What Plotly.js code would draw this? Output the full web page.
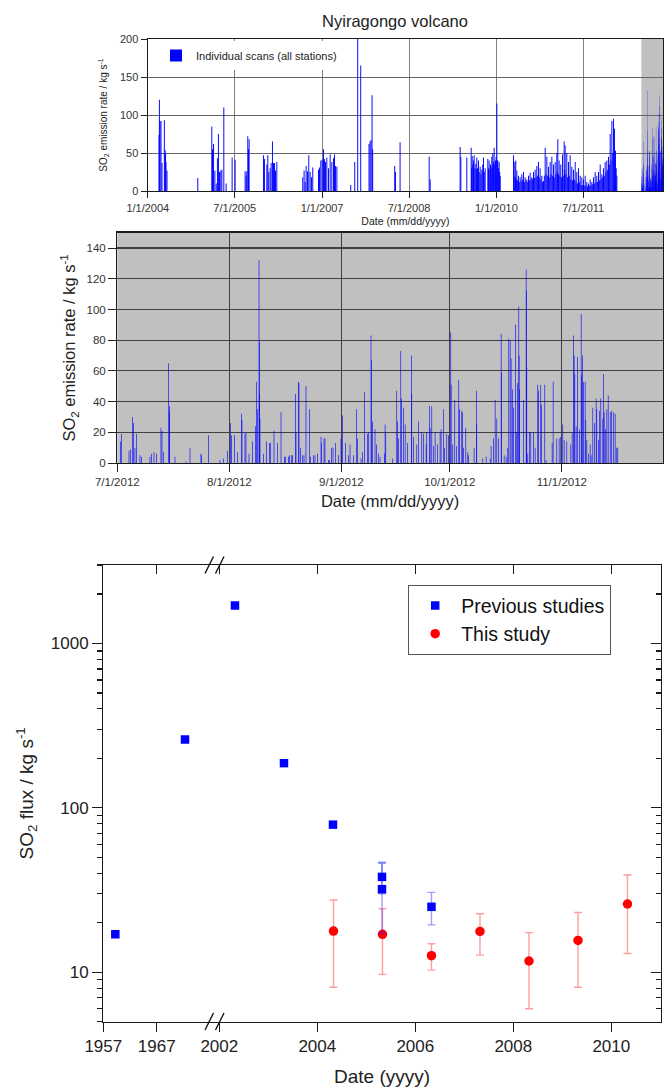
<!DOCTYPE html>
<html>
<head>
<meta charset="utf-8">
<script src="https://cdn.plot.ly/plotly-3.0.1.min.js"></script>
<style>
html,body{margin:0;padding:0;background:#fff;}
#chart{width:664px;height:1089px;}
</style>
</head>
<body>
<div id="chart"></div>
<script>
// ---------------- DATA ----------------
// Panel A: individual scans 2004 - early 2012 (decimal year, kg/s)
const scanYear = [
 2004.193,2004.199,2004.210,2004.227,2004.244,2004.284,2004.296,2004.305,2004.313,2004.330,
 2004.859,2005.100,2005.112,2005.130,2005.153,2005.176,2005.197,2005.214,2005.232,2005.255,
 2005.273,2005.307,2005.347,2005.450,2005.502,2005.674,2005.691,2005.703,2005.720,2005.732,
 2005.743,2005.990,2006.007,2006.048,2006.065,2006.082,2006.105,2006.122,2006.145,2006.163,
 2006.180,2006.197,2006.220,2006.667,2006.690,2006.708,2006.725,2006.748,2006.771,2006.794,
 2006.817,2006.840,2006.938,2006.955,2006.978,2007.001,2007.024,2007.041,2007.059,2007.082,
 2007.110,2007.139,2007.168,2007.197,2007.214,2007.232,2007.255,2007.494,2007.563,2007.614,
 2007.666,2007.809,2007.826,2007.843,2007.861,2007.872,2008.251,2008.263,2008.343,2008.843,
 2008.860,2009.376,2009.388,2009.491,2009.566,2009.575,2009.583,2009.595,2009.606,2009.617,
 2009.630,2009.646,2009.655,2009.663,2009.675,2009.692,2009.705,2009.721,2009.735,2009.750,
 2009.765,2009.778,2009.792,2009.807,2009.853,2009.865,2009.876,2009.888,2009.899,2009.910,
 2009.922,2009.930,2009.939,2009.950,2009.962,2009.973,2009.985,2009.996,2010.008,2010.016,
 2010.025,2010.036,2010.048,2010.058,2010.066,2010.295,2010.305,2010.318,2010.327,2010.335,
 2010.344,2010.353,2010.367,2010.381,2010.395,2010.410,2010.425,2010.439,2010.453,2010.468,
 2010.482,2010.496,2010.510,2010.525,2010.540,2010.554,2010.568,2010.582,2010.597,2010.611,
 2010.625,2010.640,2010.654,2010.668,2010.683,2010.697,2010.711,2010.726,2010.740,2010.754,
 2010.768,2010.783,2010.797,2010.812,2010.826,2010.841,2010.855,2010.870,2010.884,2010.898,
 2010.912,2010.927,2010.941,2010.956,2010.970,2010.984,2010.998,2011.013,2011.027,2011.042,
 2011.050,2011.059,2011.070,2011.082,2011.096,2011.110,2011.124,2011.139,2011.153,2011.168,
 2011.176,2011.185,2011.199,2011.214,2011.228,2011.243,2011.257,2011.271,2011.285,2011.300,
 2011.314,2011.329,2011.343,2011.358,2011.372,2011.386,2011.400,2011.415,2011.430,2011.444,
 2011.458,2011.473,2011.487,2011.501,2011.515,2011.530,2011.544,2011.559,2011.573,2011.587,
 2011.601,2011.616,2011.630,2011.645,2011.660,2011.674,2011.688,2011.702,2011.716,2011.731,
 2011.745,2011.760,2011.774,2011.789,2011.803,2011.817,2011.831,2011.846,2011.860,2011.875,
 2011.890,2011.904,2011.918,2011.932,2011.947,2011.961,2011.975,2011.990,2012.005,2012.019,
 2012.036,2012.053,2012.065,2012.076
];
const scanRate = [
 74,120,92,92,37,93,54,50,38,27,
 17,85,55,62,27,10,43,75,25,27,
 28,110,10,44,41,26,20,26,72,55,
 68,47,42,35,47,25,30,37,65,37,
 37,27,38,18,27,12,33,26,47,25,
 18,31,28,31,40,41,55,42,38,44,
 30,48,38,43,48,33,32,8,38,215,
 165,62,65,67,126,55,33,25,64,45,
 15,58,45,44,57,30,46,35,40,47,
 30,36,28,44,30,40,25,32,22,28,
 35,44,25,30,42,30,40,28,35,30,
 45,33,50,38,57,35,40,45,115,40,
 40,30,38,25,20,47,20,38,18,40,
 15,27,14,20,12,18,13,22,15,25,
 12,18,14,15,12,20,14,24,15,18,
 16,25,17,28,18,33,20,38,18,30,
 15,20,12,13,20,57,22,45,20,32,
 18,38,22,45,20,35,18,38,22,50,
 25,68,22,40,20,35,18,48,20,65,
 28,60,22,50,18,38,20,47,15,32,
 14,28,15,38,12,25,10,30,12,20,
 8,18,8,15,7,20,8,12,6,10,
 7,15,8,12,9,18,10,25,12,20,
 12,25,14,35,15,22,18,30,20,38,
 25,40,28,45,35,75,40,92,50,95,
 82,53,30,20
];

// Panel B: 2012 campaign scans (days after 1 July 2012, kg/s)
const scanDay2012 = [
 0.92,1.2,3.23,3.69,4.24,4.43,4.89,5.35,6.27,6.73,
 9.04,9.5,10.15,10.89,12.08,12.36,12.82,14.21,14.39,14.48,
 15.96,19.0,20.11,23.15,23.34,25.28,28.41,29.34,30.54,31.37,
 31.55,32.38,33.3,34.32,34.5,35.33,35.61,36.44,37.45,38.28,
 38.56,38.75,39.21,39.3,39.39,39.48,40.41,41.33,42.16,42.44,
 43.36,44.28,45.3,46.22,46.59,47.32,47.6,48.25,48.43,49.26,
 49.45,50.09,50.28,50.65,51.29,51.66,52.21,53.14,53.51,54.24,
 54.7,55.44,56.37,56.55,57.2,57.47,58.39,58.67,59.32,59.69,
 60.33,61.16,61.9,62.27,63.19,63.93,64.39,65.31,66.24,66.51,
 67.44,67.9,68.45,69.19,69.56,70.2,70.3,70.66,71.31,71.77,
 72.23,72.69,73.89,74.1,74.29,76.22,77.33,77.52,77.79,78.44,
 78.62,79.19,79.65,80.28,81.39,81.48,81.94,82.87,83.33,84.25,
 84.71,85.45,85.63,86.37,86.56,87.02,87.48,87.94,88.59,89.32,
 89.6,90.25,90.52,91.17,91.63,92.28,92.37,92.83,93.38,93.85,
 94.49,94.68,95.32,95.51,95.78,96.43,96.98,97.17,98.73,99.38,
 99.47,101.13,102.06,103.16,103.44,104.08,104.55,105.01,105.47,106.21,
 106.3,107.04,107.59,108.05,108.33,108.7,108.97,109.34,109.62,110.17,
 110.54,110.73,111.1,111.19,111.28,112.39,113.13,113.22,113.31,113.59,
 114.05,114.42,115.15,115.62,116.35,116.54,117.18,117.37,118.29,118.66,
 120.32,120.6,121.61,122.26,122.72,123.27,123.64,124.38,125.49,125.86,
 126.23,126.41,126.6,126.96,127.33,127.89,128.35,128.44,128.72,128.99,
 129.45,129.64,129.92,130.38,130.84,131.11,131.58,132.04,132.5,132.68,
 133.14,133.42,133.79,134.35,134.53,134.72,135.09,135.46,135.83,136.39,
 136.76,137.29,137.75,138.21,138.49
];
const scanRate2012 = [
 14,19,8,9,30,26,10,19,5,4,
 4,6,7,6,23,21,7,65,37,33,
 4,1,10,6,5,18,2,3,8,26,
 18,18,7,32,28,19,20,6,14,24,
 53,35,132,79,45,29,6,14,13,13,
 21,13,33,4,4,4,5,5,5,45,
 20,53,52,10,5,5,50,35,4,5,
 5,6,17,13,16,16,2,2,10,10,
 13,5,16,31,13,5,12,5,35,16,
 3,7,46,19,20,83,67,27,22,12,
 6,4,6,25,20,3,47,27,16,73,
 42,36,25,13,70,45,17,12,27,20,
 19,12,20,37,23,37,11,20,12,20,
 22,35,10,19,18,85,51,12,41,11,
 54,35,34,33,10,23,7,5,10,47,
 25,3,4,3,11,16,41,29,16,84,
 59,5,4,10,81,80,68,48,36,90,
 20,52,102,70,48,41,126,112,62,6,
 20,20,20,10,51,47,51,38,51,2,
 13,53,16,16,17,25,15,14,12,20,
 83,70,58,24,69,22,97,57,70,53,
 53,28,15,6,12,5,36,26,42,35,
 15,34,42,29,58,33,22,35,44,33,
 34,33,32,10,10
];

// Panel C: SO2 flux comparison
const prevYear = [1959.25, 1972.3, 2002.32, 2003.32, 2004.32, 2005.32, 2005.32, 2006.33];
const prevFlux = [17, 260, 1700, 187, 79, 38, 32, 25];
const prevErr  = [null, null, null, null, null, 8, 14.7, 5.6];
const thisYear = [2004.33, 2005.33, 2006.33, 2007.32, 2008.32, 2009.32, 2010.33];
const thisFlux = [17.8, 17.0, 12.6, 17.7, 11.7, 15.6, 26.0];
const thisErr  = [9.7, 7.3, 2.3, 5.0, 5.7, 7.5, 13.0];

const earlyTicks = [1957, 1967];
const lateTicks = [2002, 2004, 2006, 2008, 2010];
const fluxTicks = [10, 100, 1000];
const breakYear = 1990;

// ---------------- HELPERS ----------------
const W = 664, H = 1089, DAY = 86400000;
const px = v => v / W;
const py = v => 1 - v / H;
const msToStr = ms => new Date(ms).toISOString().slice(0, 19).replace('T', ' ');
function decYearToStr(y) {
  const yr = Math.floor(y);
  const t0 = Date.UTC(yr, 0, 1), t1 = Date.UTC(yr + 1, 0, 1);
  return msToStr(t0 + (y - yr) * (t1 - t0));
}
const campaignStart = Date.UTC(2012, 6, 1);
const dayToStr = d => msToStr(campaignStart + d * DAY);

const minorFlux = [];
[1, 10, 100, 1000].forEach(k => { for (let m = 2; m <= 9; m++) { const v = m * k; if (v >= 5 && v <= 3000) minorFlux.push(v); } });

const FONT = 'Liberation Sans, Arial, Helvetica, sans-serif';
const BLUE = '#0000ff';

const earlyIdx = prevYear.map((y, i) => i).filter(i => prevYear[i] < breakYear);
const lateIdx = prevYear.map((y, i) => i).filter(i => prevYear[i] >= breakYear);

// ---------------- TRACES ----------------
const traces = [
  { type: 'bar', name: 'Individual scans (all stations)', legend: 'legend',
    x: scanYear.map(decYearToStr), y: scanRate, width: 6 * DAY,
    xaxis: 'x', yaxis: 'y', marker: { color: BLUE, line: { width: 0 } } },
  { type: 'bar', name: 'Individual scans (all stations)', showlegend: false,
    x: scanDay2012.map(dayToStr), y: scanRate2012, width: 1.5 * DAY,
    xaxis: 'x', yaxis: 'y', marker: { color: BLUE, line: { width: 0 } } },
  { type: 'bar', name: '2012 scans', showlegend: false,
    x: scanDay2012.map(dayToStr), y: scanRate2012, width: 0.17 * DAY,
    xaxis: 'x2', yaxis: 'y2', marker: { color: BLUE, line: { width: 0 } } },
  { type: 'scatter', mode: 'markers', name: 'This study', legend: 'legend2', legendrank: 2,
    x: thisYear, y: thisFlux, xaxis: 'x4', yaxis: 'y3',
    marker: { symbol: 'circle', size: 9.5, color: '#ff0000' },
    error_y: { type: 'data', array: thisErr, visible: true, color: 'rgba(255,40,40,0.45)', thickness: 1.4, width: 4 } },
  { type: 'scatter', mode: 'markers', name: 'Previous studies', legend: 'legend2', showlegend: false,
    x: earlyIdx.map(i => prevYear[i]), y: earlyIdx.map(i => prevFlux[i]), xaxis: 'x3', yaxis: 'y3',
    marker: { symbol: 'square', size: 8.5, color: BLUE } },
  { type: 'scatter', mode: 'markers', name: 'Previous studies', legend: 'legend2', legendrank: 1,
    x: lateIdx.map(i => prevYear[i]), y: lateIdx.map(i => prevFlux[i]), xaxis: 'x4', yaxis: 'y3',
    marker: { symbol: 'square', size: 8.5, color: BLUE },
    error_y: { type: 'data', array: lateIdx.map(i => prevErr[i]), visible: true, color: 'rgba(40,40,255,0.45)', thickness: 1.4, width: 4 } },
  // empty traces so the mirrored (inward-tick) frame axes get their own subplots
  { type: 'scatter', mode: 'markers', x: [], y: [], xaxis: 'x5', yaxis: 'y3', showlegend: false, hoverinfo: 'skip' },
  { type: 'scatter', mode: 'markers', x: [], y: [], xaxis: 'x6', yaxis: 'y3', showlegend: false, hoverinfo: 'skip' },
  { type: 'scatter', mode: 'markers', x: [], y: [], xaxis: 'x4', yaxis: 'y4', showlegend: false, hoverinfo: 'skip' }
];

// ---------------- LAYOUT ----------------
const axLine = { showline: true, linecolor: '#1a1a1a', linewidth: 1.3, zeroline: false };
const layout = {
  width: W, height: H, margin: { l: 0, r: 0, t: 0, b: 0 },
  paper_bgcolor: '#ffffff', plot_bgcolor: 'rgba(0,0,0,0)',
  font: { family: FONT, color: '#222' },
  barmode: 'overlay',
  title: { text: 'Nyiragongo volcano', font: { family: FONT, size: 16.5, color: '#222' },
           x: px(395), xref: 'paper', xanchor: 'center', y: py(21), yref: 'paper', yanchor: 'middle' },

  // Panel A
  xaxis: Object.assign({}, axLine, {
    type: 'date', domain: [px(147.8), px(663)], range: ['2004-01-01', '2012-11-14'], anchor: 'y',
    tick0: '2004-01-01', dtick: 'M18', tickformat: '%-m/%-d/%Y',
    ticks: 'outside', ticklen: 6, tickcolor: '#222', mirror: true,
    showgrid: true, gridcolor: '#808080', gridwidth: 1,
    tickfont: { size: 11, color: '#333' },
    title: { text: 'Date (mm/dd/yyyy)', font: { size: 10.5, color: '#222' }, standoff: 5 } }),
  yaxis: Object.assign({}, axLine, {
    domain: [py(191), py(39)], range: [0, 200], dtick: 50, anchor: 'x',
    ticks: 'outside', ticklen: 6, tickcolor: '#222', mirror: true,
    showgrid: true, gridcolor: '#666', gridwidth: 1,
    tickfont: { size: 11, color: '#333' },
    title: { text: 'SO<sub>2</sub> emission rate / kg s<sup>-1</sup>', font: { size: 10, color: '#222' }, standoff: 10 } }),

  // Panel B
  xaxis2: Object.assign({}, axLine, {
    type: 'date', domain: [px(117.3), px(663)], range: ['2012-07-01', '2012-11-29'], anchor: 'y2',
    tick0: '2012-07-01', dtick: 'M1', tickformat: '%-m/%-d/%Y',
    ticks: 'outside', ticklen: 8, tickcolor: '#222', mirror: true,
    showgrid: true, gridcolor: '#404040', gridwidth: 1.2,
    tickfont: { size: 11.5, color: '#333' },
    title: { text: 'Date (mm/dd/yyyy)', font: { size: 16.5, color: '#222' }, standoff: 8 } }),
  yaxis2: Object.assign({}, axLine, {
    domain: [py(463), py(232.7)], range: [0, 150], dtick: 20, anchor: 'x2',
    ticks: 'outside', ticklen: 8, tickcolor: '#222', mirror: true,
    showgrid: true, gridcolor: '#404040', gridwidth: 1.2,
    tickfont: { size: 11.5, color: '#333' },
    title: { text: 'SO<sub>2</sub> emission rate / kg s<sup>-1</sup>', font: { size: 16.5, color: '#222' }, standoff: 6 } }),

  // Panel C (broken x axis)
  xaxis3: Object.assign({}, axLine, {
    domain: [px(103.3), px(214.5)], range: [1957, 1977.82], anchor: 'y3',
    tickmode: 'array', tickvals: earlyTicks, ticks: 'outside', ticklen: 9, tickwidth: 1.3, tickcolor: '#1a1a1a',
    mirror: true, showgrid: false, tickfont: { size: 17, color: '#222' } }),
  xaxis4: Object.assign({}, axLine, {
    domain: [px(214.5), px(661)], range: [2001.902, 2011.014], anchor: 'y3',
    tickmode: 'array', tickvals: lateTicks, ticks: 'outside', ticklen: 9, tickwidth: 1.3, tickcolor: '#1a1a1a',
    mirror: true, showgrid: false, tickfont: { size: 17, color: '#222' } }),
  xaxis5: { overlaying: 'x3', side: 'top', anchor: 'y3', range: [1957, 1977.82],
    tickmode: 'array', tickvals: earlyTicks, ticks: 'inside', ticklen: 9, tickwidth: 1.3, tickcolor: '#1a1a1a',
    showticklabels: false, showline: false, showgrid: false, zeroline: false },
  xaxis6: { overlaying: 'x4', side: 'top', anchor: 'y3', range: [2001.902, 2011.014],
    tickmode: 'array', tickvals: lateTicks, ticks: 'inside', ticklen: 9, tickwidth: 1.3, tickcolor: '#1a1a1a',
    showticklabels: false, showline: false, showgrid: false, zeroline: false },
  yaxis3: Object.assign({}, axLine, {
    type: 'log', domain: [py(1021.7), py(565)], range: [Math.log10(5), Math.log10(3000)], anchor: 'x3',
    tickmode: 'array', tickvals: fluxTicks, ticktext: fluxTicks.map(String),
    ticks: 'outside', ticklen: 10, tickwidth: 1.3, tickcolor: '#1a1a1a',
    minor: { tickmode: 'array', tickvals: minorFlux, ticks: 'outside', ticklen: 5, tickwidth: 1.2, tickcolor: '#1a1a1a', showgrid: false },
    showgrid: false, tickfont: { size: 17, color: '#222' },
    title: { text: 'SO<sub>2</sub> flux / kg s<sup>-1</sup>', font: { size: 19, color: '#222' }, standoff: 12 } }),
  yaxis4: Object.assign({}, axLine, {
    type: 'log', overlaying: 'y3', side: 'right', anchor: 'x4', range: [Math.log10(5), Math.log10(3000)],
    tickmode: 'array', tickvals: fluxTicks, ticks: 'inside', ticklen: 10, tickwidth: 1.3, tickcolor: '#1a1a1a',
    minor: { tickmode: 'array', tickvals: minorFlux, ticks: 'inside', ticklen: 5, tickwidth: 1.2, tickcolor: '#1a1a1a', showgrid: false },
    showticklabels: false, showgrid: false }),

  legend: { x: px(156), y: py(41), xanchor: 'left', yanchor: 'top', bgcolor: '#ffffff', borderwidth: 0,
            font: { size: 11, color: '#222' }, itemwidth: 30 },
  legend2: { x: px(408), y: py(585), xanchor: 'left', yanchor: 'top', bgcolor: '#ffffff',
             bordercolor: '#555', borderwidth: 1.2, font: { size: 19.5, color: '#111' }, itemwidth: 42,
             tracegroupgap: 0 },

  shapes: [
    { type: 'rect', xref: 'x', yref: 'y domain', x0: '2012-07-01', x1: '2013-01-01', y0: 0, y1: 1,
      fillcolor: '#c0c0c0', line: { width: 0 }, layer: 'below' },
    { type: 'rect', xref: 'x2 domain', yref: 'y2 domain', x0: 0, x1: 1, y0: 0, y1: 1,
      fillcolor: '#c0c0c0', line: { width: 0 }, layer: 'below' },
    // axis-break marks
    { type: 'line', xref: 'paper', yref: 'paper', x0: px(205), y0: py(573.5), x1: px(213.5), y1: py(556.5), line: { color: '#111', width: 1.4 } },
    { type: 'line', xref: 'paper', yref: 'paper', x0: px(215.5), y0: py(573.5), x1: px(224), y1: py(556.5), line: { color: '#111', width: 1.4 } },
    { type: 'line', xref: 'paper', yref: 'paper', x0: px(205), y0: py(1030), x1: px(213.5), y1: py(1013), line: { color: '#111', width: 1.4 } },
    { type: 'line', xref: 'paper', yref: 'paper', x0: px(215.5), y0: py(1030), x1: px(224), y1: py(1013), line: { color: '#111', width: 1.4 } }
  ],
  annotations: [
    { xref: 'paper', yref: 'paper', x: px(382), y: py(1076.7), xanchor: 'center', yanchor: 'middle',
      text: 'Date (yyyy)', showarrow: false, font: { size: 19, color: '#222' } }
  ]
};

Plotly.newPlot('chart', traces, layout, { staticPlot: true, displayModeBar: false });
</script>
</body>
</html>
